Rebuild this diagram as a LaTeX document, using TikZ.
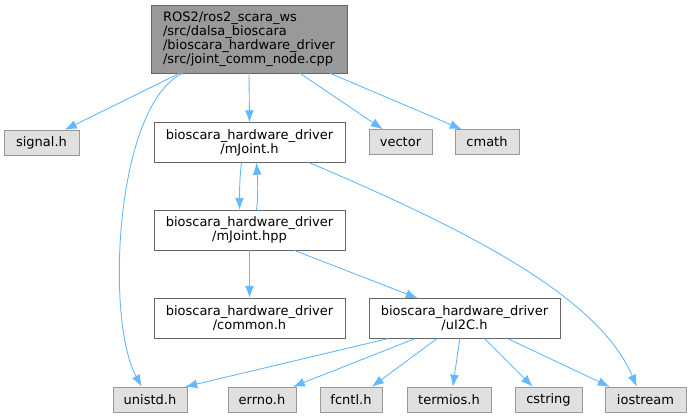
\documentclass[tikz,border=0pt]{standalone}
\usepackage{fontspec}
\setmainfont{DejaVu Sans}
\usepackage{tikz}
\usetikzlibrary{
    arrows.meta,
    positioning
}
\definecolor{EdgeBlue}{HTML}{63B8FF}
\definecolor{RootGray}{HTML}{999999}
\definecolor{BoxEdge}{HTML}{666666}
\definecolor{SysFill}{HTML}{E0E0E0}
\definecolor{SysEdge}{HTML}{999999}

\begin{document}
\begin{tikzpicture}[
    x=1pt, y=-1pt,
    rootfile/.style={draw=BoxEdge, fill=RootGray, inner sep=0pt, align=left,
                     minimum width=196pt, minimum height=68pt},
    hfile/.style={draw=BoxEdge, fill=white, inner sep=0pt, align=center,
                  minimum width=191pt, minimum height=40pt},
    sysfile/.style={draw=SysEdge, fill=SysFill, inner sep=0pt, minimum height=25pt},
    arr/.style={-{Latex[length=12pt,width=9pt]}, EdgeBlue, line width=0.9pt},
    every node/.style={font=\fontsize{13}{14}\selectfont}
]
\useasboundingbox (0,0) rectangle (691,417);

% source file and its headers
\node[rootfile] (root) at (249,39) {ROS2/ros2\_scara\_ws\\/src/dalsa\_bioscara\\/bioscara\_hardware\_driver\\/src/joint\_comm\_node.cpp};
\node[hfile] (mjh)  at (249.5,142.5) {bioscara\_hardware\_driver\\/mJoint.h};
\node[hfile] (mjhpp) at (249.5,230) {bioscara\_hardware\_driver\\/mJoint.hpp};
\node[hfile] (common) at (249.5,318) {bioscara\_hardware\_driver\\/common.h};
\node[hfile] (ui2c) at (464.5,318.5) {bioscara\_hardware\_driver\\/uI2C.h};

% system headers
\node[sysfile, minimum width=75pt] (signal) at (41.5,142.5) {signal.h};
\node[sysfile, minimum width=63pt] (vector) at (400.5,142) {vector};
\node[sysfile, minimum width=64pt] (cmath) at (487,142) {cmath};
\node[sysfile, minimum width=74pt] (unistd) at (150,399.5) {unistd.h};
\node[sysfile, minimum width=68pt] (errno) at (262,399.5) {errno.h};
\node[sysfile, minimum width=62pt] (fcntl) at (351,399.5) {fcntl.h};
\node[sysfile, minimum width=84pt] (termios) at (449,399.5) {termios.h};
\node[sysfile, minimum width=67pt] (cstring) at (548.5,399.5) {cstring};
\node[sysfile, minimum width=81pt] (iostream) at (645.5,399.5) {iostream};

% includes of the source file
\draw[arr] ([xshift=29pt]root.south west) -- ([xshift=61pt]signal.north west);
\draw[arr] ([xshift=32pt]root.south west) .. controls (115,105) and (105,320) .. ([xshift=29pt]unistd.north west);
\draw[arr] (root.south) -- (mjh.north);
\draw[arr] ([xshift=149pt]root.south west) -- ([xshift=14pt]vector.north west);
\draw[arr] ([xshift=179pt]root.south west) -- ([xshift=7pt]cmath.north west);

% mJoint.h <-> mJoint.hpp
\draw[arr] ([xshift=-8pt]mjh.south) .. controls +(-2,16) and +(0,-16) .. ([xshift=-10pt]mjhpp.north);
\draw[arr] ([xshift=7pt]mjhpp.north) .. controls +(2,-16) and +(1,16) .. ([xshift=7pt]mjh.south);
\draw[arr] ([xshift=155.5pt]mjh.south west) .. controls (480,235) and (600,300) .. ([xshift=32pt]iostream.north west);

% mJoint.hpp
\draw[arr] (mjhpp.south) -- (common.north);
\draw[arr] ([xshift=140pt]mjhpp.south west) -- ([xshift=49pt]ui2c.north west);

% uI2C.h
\draw[arr] ([xshift=19pt]ui2c.south west) -- ([xshift=-2pt]unistd.north east);
\draw[arr] ([xshift=46pt]ui2c.south west) -- ([xshift=65pt]errno.north west);
\draw[arr] ([xshift=68pt]ui2c.south west) -- ([xshift=52pt]fcntl.north west);
\draw[arr] ([xshift=91pt]ui2c.south west) -- ([xshift=46pt]termios.north west);
\draw[arr] ([xshift=116pt]ui2c.south west) -- ([xshift=18pt]cstring.north west);
\draw[arr] ([xshift=139pt]ui2c.south west) -- ([xshift=5pt]iostream.north west);
\end{tikzpicture}
\end{document}
